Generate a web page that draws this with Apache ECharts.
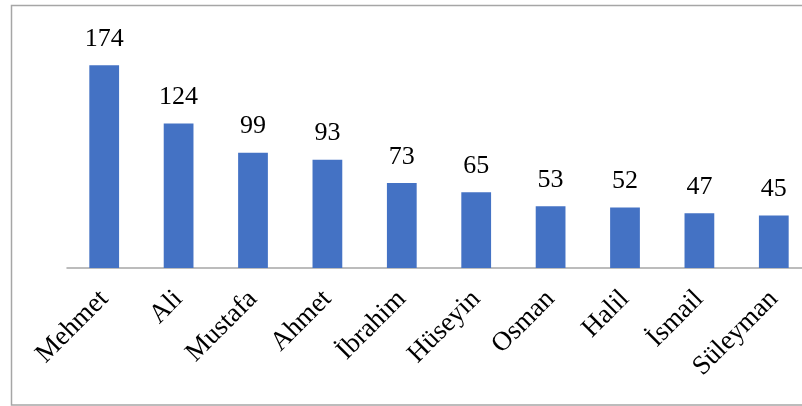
<!DOCTYPE html>
<html>
<head>
<meta charset="utf-8">
<script src="https://cdn.jsdelivr.net/npm/echarts@6/dist/echarts.min.js"></script>
<style>
html,body{margin:0;padding:0;background:#fff;overflow:hidden;width:802px;height:406px;}
#c{width:830px;height:406px;}
</style>
</head>
<body>
<div id="c"></div>
<script>
const categories = ["Mehmet","Ali","Mustafa","Ahmet","İbrahim","Hüseyin","Osman","Halil","İsmail","Süleyman"];
const values = [174,124,99,93,73,65,53,52,47,45];

const chart = echarts.init(document.getElementById('c'), null, {renderer:'canvas'});
const font = '"Liberation Serif","Times New Roman",serif';
chart.setOption({
  animation:false,
  backgroundColor:'#fff',
  graphic:[{
    type:'rect',
    shape:{x:11.5,y:5.5,width:840,height:399.5},
    style:{fill:'none',stroke:'#A6A6A6',lineWidth:1.5},
    silent:true,
    z:-1
  }],
  grid:{left:67,top:35,width:744,height:233,containLabel:false},
  xAxis:{
    type:'category',
    data:categories,
    axisLine:{lineStyle:{color:'#A6A6A6',width:1.5}},
    axisTick:{show:false},
    axisLabel:{rotate:45,color:'#000',fontFamily:font,fontSize:27,margin:27,interval:0}
  },
  yAxis:{
    type:'value',min:0,max:200,
    show:false,
    splitLine:{show:false}
  },
  series:[{
    type:'bar',
    data:values,
    barWidth:'40%',
    itemStyle:{color:'#4472C4'},
    label:{show:true,position:'top',distance:13,color:'#000',fontFamily:font,fontSize:26}
  }]
});
</script>
</body>
</html>
